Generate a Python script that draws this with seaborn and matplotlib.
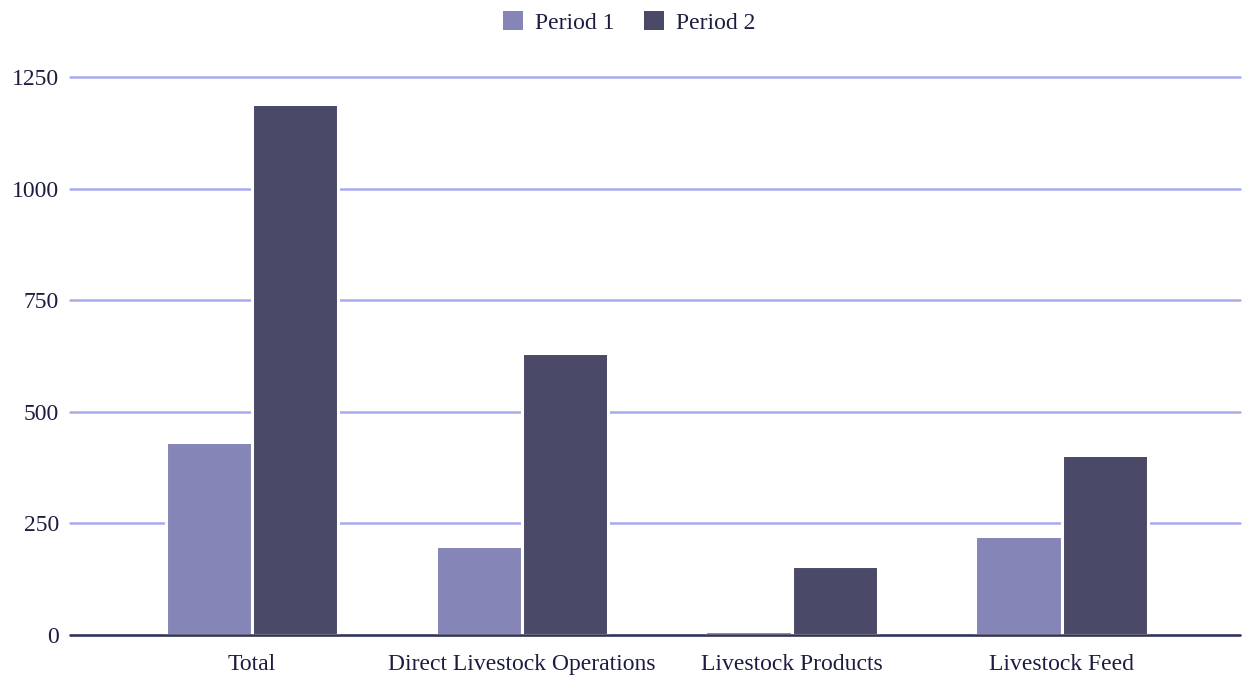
import matplotlib
matplotlib.use("Agg")
import matplotlib.pyplot as plt
import seaborn as sns
import pandas as pd
from matplotlib.patches import Patch

categories = ["Total", "Direct Livestock Operations", "Livestock Products", "Livestock Feed"]
period_1 = [433, 200, 10, 222]
period_2 = [1189, 632, 155, 403]
series_names = ["Period 1", "Period 2"]
y_ticks = [0, 250, 500, 750, 1000, 1250]

colors = ["#8585b8", "#4a4a68"]
text_color = "#1c1c40"
grid_color = "#a9a9ee"

df = pd.DataFrame({
    "category": categories * 2,
    "value": period_1 + period_2,
    "period": [series_names[0]] * len(categories) + [series_names[1]] * len(categories),
})

sns.set_theme(style="white")
plt.rcParams["font.family"] = ["Liberation Serif", "DejaVu Serif"]

fig = plt.figure(figsize=(12.43, 6.75), dpi=100)
ax = fig.add_axes([0.0563, 0.0593, 0.9413, 0.8267])

sns.barplot(data=df, x="category", y="value", hue="period", order=categories,
            hue_order=series_names, palette=colors, width=0.64, ax=ax,
            edgecolor="white", linewidth=2.2, saturation=1, legend=False, zorder=3)

ax.set_ylim(0, 1250)
ax.set_xlim(-0.674, 3.66)
ax.set_yticks(y_ticks)
ax.set_yticklabels([str(t) for t in y_ticks])
ax.yaxis.grid(True, color=grid_color, linewidth=1.8, zorder=0)
for gl in ax.get_ygridlines():
    gl.set_clip_on(False)
ax.set_axisbelow(True)
ax.axhline(0, color="#34344f", linewidth=1.8, zorder=6, clip_on=False)

for s in ax.spines.values():
    s.set_visible(False)

ax.set_xlabel("")
ax.set_ylabel("")
ax.tick_params(axis="both", length=0, labelsize=17, labelcolor=text_color)
ax.tick_params(axis="x", pad=14)
ax.tick_params(axis="y", pad=8)

handles = [Patch(facecolor=c, edgecolor="none") for c in colors]
fig.legend(handles, series_names, loc="center", bbox_to_anchor=(0.506, 0.967),
           ncol=2, frameon=False, fontsize=17, handlelength=0.85, handleheight=0.85,
           columnspacing=1.27, handletextpad=0.5, labelcolor=text_color)

fig.savefig("out.png", dpi=100, facecolor="white")
